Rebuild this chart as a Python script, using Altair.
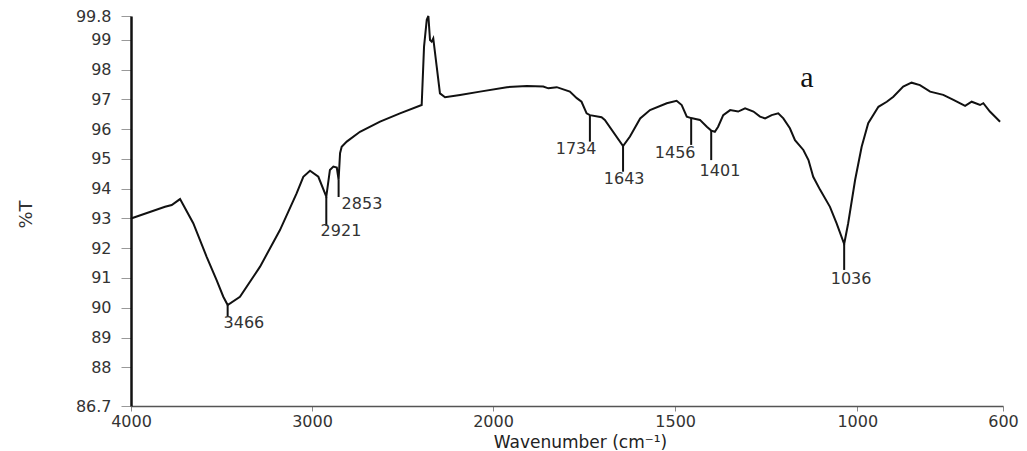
import altair as alt
import pandas as pd

# ---- spectrum ----
wavenumber = [4000, 3812, 3775, 3729, 3656, 3582, 3527, 3490, 3466, 3398, 3287, 3177, 3085, 3048,
              3011, 2965, 2921, 2901, 2882, 2863, 2853, 2845, 2836, 2808, 2735, 2624, 2514, 2394,
              2381, 2366, 2357, 2348, 2339, 2330, 2311, 2293, 2265, 2182, 2072, 1962, 1907, 1862,
              1848, 1825, 1789, 1770, 1757, 1743, 1734, 1702, 1693, 1643, 1624, 1596, 1569, 1523,
              1496, 1482, 1468, 1456, 1450, 1432, 1413, 1401, 1391, 1382, 1368, 1349, 1327, 1308,
              1285, 1267, 1253, 1235, 1217, 1203, 1185, 1171, 1148, 1134, 1121, 1102, 1075, 1057,
              1036, 1025, 1006, 988, 970, 942, 919, 901, 874, 851, 828, 800, 764, 736, 704, 686,
              663, 654, 636, 608]
transmittance = [93.0, 93.39, 93.45, 93.65, 92.84, 91.71, 90.93, 90.37, 90.09, 90.37, 91.38, 92.61,
                 93.84, 94.40, 94.60, 94.40, 93.73, 94.63, 94.74, 94.71, 94.3, 95.19, 95.41, 95.58,
                 95.91, 96.25, 96.53, 96.81, 98.77, 99.67, 99.8, 98.99, 98.94, 99.05, 98.10, 97.20,
                 97.07, 97.15, 97.26, 97.41, 97.45, 97.43, 97.37, 97.41, 97.26, 97.04, 96.92, 96.53,
                 96.47, 96.40, 96.31, 95.43, 95.75, 96.36, 96.64, 96.87, 96.95, 96.81, 96.42, 96.37,
                 96.36, 96.31, 96.08, 95.95, 95.91, 96.08, 96.47, 96.64, 96.59, 96.70, 96.59, 96.42,
                 96.36, 96.47, 96.53, 96.36, 96.03, 95.63, 95.30, 94.96, 94.40, 93.96, 93.39, 92.84,
                 92.14, 92.84, 94.29, 95.41, 96.20, 96.75, 96.92, 97.09, 97.43, 97.56, 97.48, 97.26,
                 97.15, 96.98, 96.78, 96.92, 96.81, 96.87, 96.59, 96.25]

# ---- peak markers ----
peak_labels = ["3466", "2921", "2853", "1734", "1643", "1456", "1401", "1036"]
peak_wn = [3466, 2921, 2853, 1734, 1643, 1456, 1401, 1036]
peak_T = [90.09, 93.73, 94.3, 96.47, 95.43, 96.37, 95.95, 92.14]
tick_end_T = [89.70, 92.75, 93.72, 95.58, 94.57, 95.47, 94.96, 91.27]
label_wn = [3376, 2840, 2724, 1772, 1640, 1500, 1377, 1017]
label_T = [89.50, 92.58, 93.49, 95.33, 94.32, 95.21, 94.59, 90.97]

# ---- panel letter ----
panel_label = ["a"]
panel_wn = [1138]
panel_T = [97.42]

x_ticks = [4000, 3000, 2000, 1500, 1000, 600]
y_ticks = [86.7, 88, 89, 90, 91, 92, 93, 94, 95, 96, 97, 98, 99, 99.8]

spec = pd.DataFrame({"wn": wavenumber, "T": transmittance})
peaks = pd.DataFrame({"wn": peak_wn, "T": peak_T, "T2": tick_end_T})
labels = pd.DataFrame({"wn": label_wn, "T": label_T, "label": peak_labels})
panel = pd.DataFrame({"wn": panel_wn, "T": panel_T, "label": panel_label})

FONT = "DejaVu Sans"

xscale = alt.Scale(domain=[4000, 2000, 600], range=[0, 362, 872], nice=False, zero=False)
yscale = alt.Scale(domain=[86.7, 99.8], nice=False, zero=False)

x_axis = alt.Axis(values=x_ticks, format="d", title="Wavenumber (cm⁻¹)", grid=False,
                  domainColor="#555", domainWidth=1.5, tickColor="#888", tickSize=5,
                  labelPadding=2, labelFont=FONT, labelFontSize=16, labelColor="#333",
                  labelOverlap=False, labelFlush=False,
                  titleFont=FONT, titleFontSize=17, titleFontWeight="normal", titleColor="#222",
                  titleX=449, titleY=41, titleAlign="center", titleBaseline="alphabetic")
y_axis = alt.Axis(values=y_ticks, format=".1~f", title="%T", grid=False,
                  domainColor="#111", domainWidth=2.5, tickColor="#999", tickSize=10,
                  labelPadding=10, labelFont=FONT, labelFontSize=16, labelColor="#333",
                  labelOverlap=False, labelFlush=False,
                  titleFont=FONT, titleFontSize=18, titleFontWeight="normal", titleColor="#333",
                  titleAngle=270, titleX=-105, titleY=198, titleAlign="center",
                  titleBaseline="middle")

x_enc = alt.X("wn:Q", scale=xscale, axis=x_axis)
y_enc = alt.Y("T:Q", scale=yscale, axis=y_axis)

line = alt.Chart(spec).mark_line(color="#111", strokeWidth=2).encode(
    x=x_enc, y=y_enc, order=alt.Order("wn:Q", sort="descending"))

rules = alt.Chart(peaks).mark_rule(color="#111", strokeWidth=2).encode(
    x=x_enc, y=y_enc, y2="T2:Q")

texts = alt.Chart(labels).mark_text(font=FONT, fontSize=16, color="#333",
                                    align="center", baseline="middle").encode(
    x=x_enc, y=y_enc, text="label:N")

letter = alt.Chart(panel).mark_text(font="Liberation Serif", fontSize=30, color="#111",
                                    align="center", baseline="alphabetic").encode(
    x=x_enc, y=y_enc, text="label:N")

chart = alt.layer(line, rules, texts, letter).properties(
    width=872, height=390,
    padding={"left": 123, "top": 8, "right": 16, "bottom": 46},
    autosize=alt.AutoSizeParams(type="none"),
).configure_view(stroke=None)

chart.save("out.html", embed_options={"renderer": "svg", "actions": False})
